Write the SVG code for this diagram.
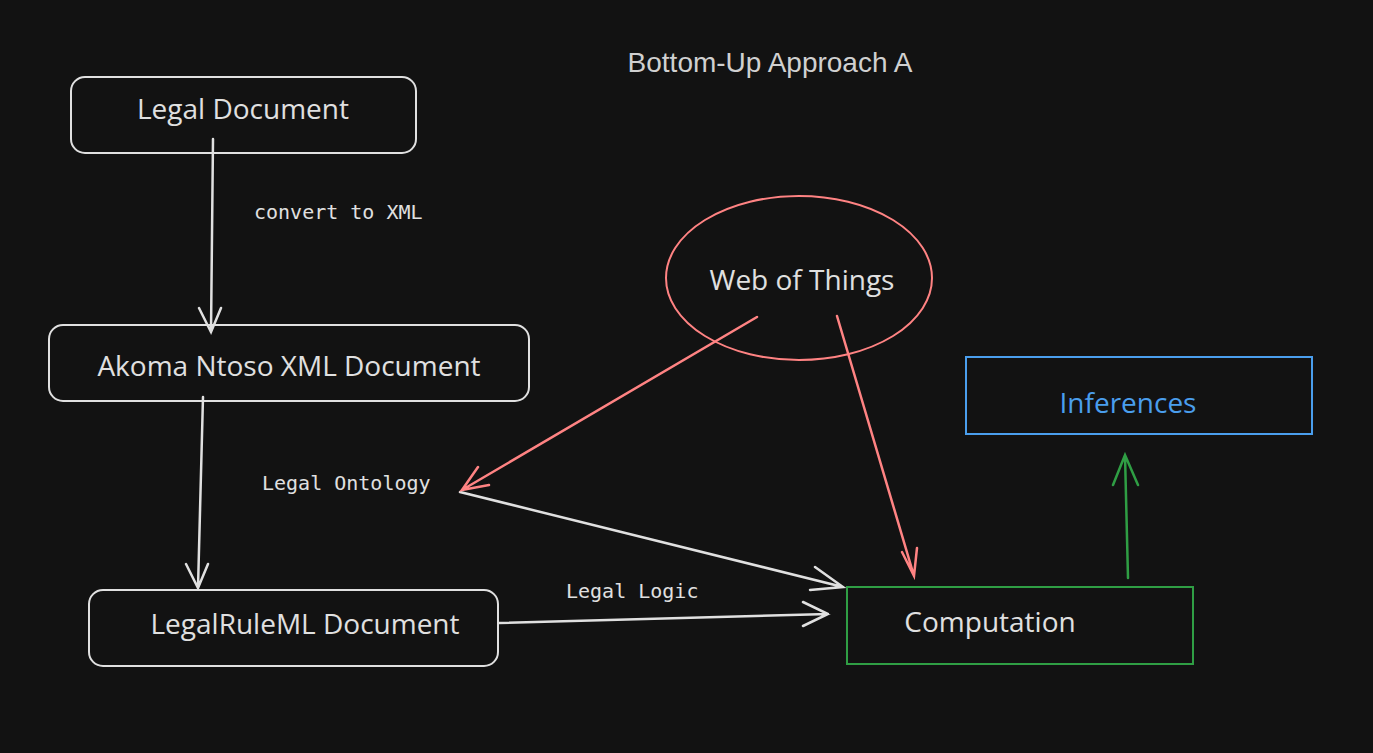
<svg xmlns="http://www.w3.org/2000/svg" width="1373" height="753" viewBox="0 0 1373 753">
<style>
.bg{fill:#121212}
.box{fill:none;stroke:#e0e0e0;stroke-width:2}
.hand{font-family:"Open Sans","Liberation Sans",sans-serif;font-size:28px;fill:#e0e0e0}
.mono{font-family:"DejaVu Sans Mono","Liberation Mono",monospace;font-size:20px;fill:#e0e0e0}
.w{fill:none;stroke:#e0e0e0;stroke-width:2.5;stroke-linecap:round}
.r{fill:none;stroke:#ff8383;stroke-width:2.5;stroke-linecap:round}
.g{fill:none;stroke:#2f9e44;stroke-width:2.5;stroke-linecap:round}
</style>
<rect class="bg" width="1373" height="753"/>
<text x="770" y="72" text-anchor="middle" font-family="Liberation Sans,sans-serif" font-size="28" fill="#d0d0d0">Bottom-Up Approach A</text>
<g id="legal-document"><rect class="box" x="71" y="77" width="345" height="76" rx="14"/><text class="hand" x="243" y="119" text-anchor="middle">Legal Document</text></g>
<g id="akoma"><rect class="box" x="49" y="325" width="480" height="76" rx="14"/><text class="hand" x="289" y="376" text-anchor="middle">Akoma Ntoso XML Document</text></g>
<g id="legalruleml"><rect class="box" x="89" y="590" width="409" height="76" rx="14"/><text class="hand" x="305" y="634" text-anchor="middle">LegalRuleML Document</text></g>
<g id="wot"><ellipse cx="799" cy="278" rx="133" ry="82" fill="none" stroke="#ff8383" stroke-width="2"/><text class="hand" x="802" y="290" text-anchor="middle">Web of Things</text></g>
<g id="inferences"><rect x="966" y="357" width="346" height="77" fill="none" stroke="#4a9eed" stroke-width="2"/><text class="hand" x="1128" y="413" text-anchor="middle" fill="#4a9eed" style="fill:#4a9eed">Inferences</text></g>
<g id="computation"><rect x="847" y="587" width="346" height="77" fill="none" stroke="#2f9e44" stroke-width="2"/><text class="hand" x="990" y="632" text-anchor="middle">Computation</text></g>
<g id="labels">
<text class="mono" x="254" y="219">convert to XML</text>
<text class="mono" x="262" y="490">Legal Ontology</text>
<text class="mono" x="566" y="598">Legal Logic</text>
</g>
<g id="connectors">
<path class="w" d="M213 139 L211 332 M199 308 L211 332 L221 308"/>
<path class="w" d="M203 397 L198 588 M186 564 L198 588 L208 564"/>
<path class="w" d="M460 492 L843 587 M815 567 L843 587 L810 590"/>
<path class="w" d="M499 623 L828 614 M803 602 L828 614 L803 626"/>
<path class="r" d="M757 317 L462 490 M478 467 L462 490 L489 485"/>
<path class="r" d="M837 316 L914 576 M902 552 L914 576 L917 548"/>
<path class="g" d="M1128 578 L1125 455 M1113 485 L1125 455 L1138 485"/>
</g>
</svg>
